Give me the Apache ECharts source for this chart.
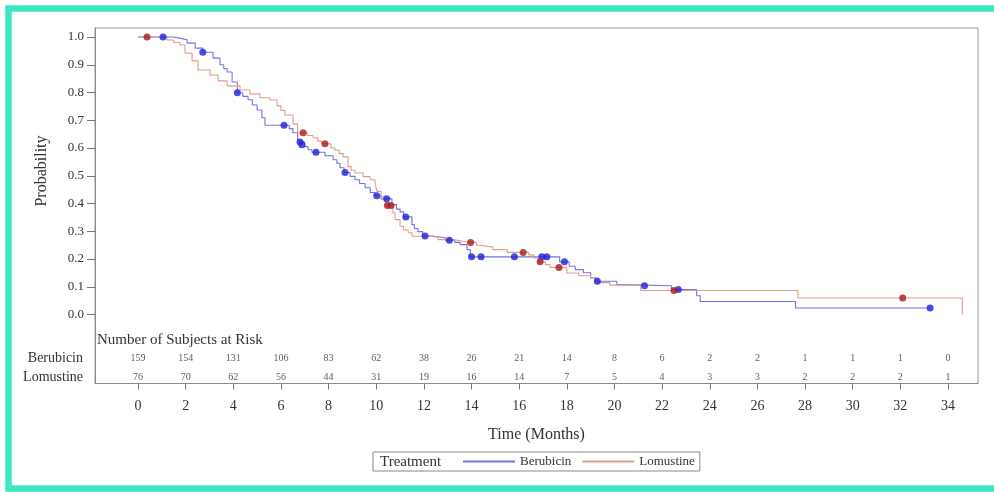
<!DOCTYPE html>
<html lang="en">
  <head>
    <meta charset="UTF-8" />
    <title>Kaplan-Meier</title>
    <script src="https://cdn.jsdelivr.net/npm/echarts/dist/echarts.min.js"></script>
    <style>
      body {
        margin: 0;
        background: #fff;
      }
      #chart {
        width: 994px;
        height: 492px;
      }
    </style>
  </head>
  <body>
    <div id="chart"></div>

    <script>
      // survival curves, [time, probability] after each drop
      var berubicinCurve = [
        [0, 1.0], [1.47, 0.996], [1.75, 0.99], [2.06, 0.978], [2.4, 0.96],
        [2.72, 0.945], [3.15, 0.924], [3.44, 0.9], [3.6, 0.886], [3.74, 0.874],
        [3.95, 0.838], [4.17, 0.799], [4.4, 0.786], [4.62, 0.774], [4.8, 0.755],
        [5.0, 0.737], [5.2, 0.709], [5.33, 0.682], [6.35, 0.67], [6.5, 0.655],
        [6.7, 0.63], [6.8, 0.622], [7.0, 0.605], [7.14, 0.594], [7.3, 0.585],
        [7.85, 0.572], [8.19, 0.558], [8.35, 0.545], [8.48, 0.529], [8.65, 0.512],
        [8.9, 0.498], [9.11, 0.486], [9.3, 0.472], [9.53, 0.457], [9.75, 0.44],
        [9.95, 0.428], [10.2, 0.417], [10.66, 0.396], [10.85, 0.38], [11.0, 0.37],
        [11.15, 0.352], [11.5, 0.324], [11.6, 0.31], [11.75, 0.299], [11.95, 0.283],
        [12.38, 0.277], [12.9, 0.268], [13.3, 0.26], [13.52, 0.252], [13.81, 0.234],
        [13.95, 0.208], [17.7, 0.19], [18.1, 0.174], [18.35, 0.162], [18.7, 0.151],
        [19.0, 0.133], [19.2, 0.12], [20.1, 0.108], [20.3, 0.104], [22.4, 0.09],
        [23.45, 0.068], [23.6, 0.047], [27.6, 0.024], [33.25, 0.024]
      ];
      var lomustineCurve = [
        [0, 1.0], [1.22, 0.989], [1.5, 0.98], [1.76, 0.971], [1.97, 0.942],
        [2.27, 0.914], [2.52, 0.881], [3.02, 0.863], [3.36, 0.842], [3.74, 0.824],
        [4.28, 0.809], [4.7, 0.795], [5.12, 0.781], [5.54, 0.773], [5.84, 0.752],
        [6.0, 0.735], [6.17, 0.719], [6.51, 0.687], [6.7, 0.655], [7.1, 0.645],
        [7.35, 0.637], [7.55, 0.625], [7.7, 0.615], [8.1, 0.6], [8.27, 0.592],
        [8.45, 0.58], [8.61, 0.568], [8.82, 0.533], [8.95, 0.52], [9.11, 0.51],
        [9.45, 0.497], [9.74, 0.486], [9.95, 0.474], [10.03, 0.444], [10.2, 0.425],
        [10.37, 0.408], [10.42, 0.393], [10.7, 0.367], [10.79, 0.342], [11.0, 0.318],
        [11.15, 0.305], [11.34, 0.295], [11.5, 0.282], [12.26, 0.279], [12.6, 0.27],
        [13.22, 0.264], [13.64, 0.26], [14.2, 0.25], [14.36, 0.243], [14.9, 0.234],
        [15.5, 0.224], [16.4, 0.215], [16.6, 0.204], [16.8, 0.19], [17.1, 0.18],
        [17.3, 0.17], [18.0, 0.15], [18.5, 0.14], [19.0, 0.132], [19.3, 0.115],
        [19.8, 0.106], [21.1, 0.087], [27.7, 0.06], [34.6, 0.0]
      ];

      // censored subjects
      var berubicinCensor = [
        [1.05, 1.0], [2.72, 0.945], [4.17, 0.799], [6.13, 0.682], [6.8, 0.622],
        [6.88, 0.612], [7.47, 0.585], [8.69, 0.512], [10.02, 0.428], [10.44, 0.417],
        [11.24, 0.352], [12.05, 0.283], [13.07, 0.268], [14.0, 0.208], [14.4, 0.208],
        [15.8, 0.208], [16.95, 0.208], [17.16, 0.208], [17.9, 0.19], [19.28, 0.12],
        [21.26, 0.104], [22.68, 0.09], [33.25, 0.024]
      ];
      var lomustineCensor = [
        [0.38, 1.0], [6.93, 0.655], [7.85, 0.615], [10.47, 0.393], [10.62, 0.393],
        [13.96, 0.26], [16.17, 0.224], [16.88, 0.19], [17.67, 0.17], [22.5, 0.087],
        [32.1, 0.06]
      ];

      // number at risk table
      var riskTimes = [0, 2, 4, 6, 8, 10, 12, 14, 16, 18, 20, 22, 24, 26, 28, 30, 32, 34];
      var berubicinRisk = [159, 154, 131, 106, 83, 62, 38, 26, 21, 14, 8, 6, 2, 2, 1, 1, 1, 0];
      var lomustineRisk = [76, 70, 62, 56, 44, 31, 19, 16, 14, 7, 5, 4, 3, 3, 2, 2, 2, 1];
      var riskRows = ["Berubicin", "Lomustine"];

      var yTicks = [0, 0.1, 0.2, 0.3, 0.4, 0.5, 0.6, 0.7, 0.8, 0.9, 1.0];

      var blueLine = "#7373e6";
      var redLine = "#df9c8c";
      var serif = '"Liberation Serif", "Times New Roman", serif';
      var chart = echarts.init(document.getElementById("chart"));

      var riskData = [];
      riskTimes.forEach(function (t, i) {
        riskData.push([t, 0, berubicinRisk[i]]);
        riskData.push([t, 1, lomustineRisk[i]]);
      });

      var option = {
        animation: false,
        backgroundColor: "#fff",
        grid: [
          {
            left: 95,
            top: 28,
            width: 883,
            height: 355.5,
            show: true,
            borderColor: "#9a9a9a",
            borderWidth: 1,
          },
          { left: 95, top: 348.5, width: 883, height: 38 },
        ],
        xAxis: [
          {
            gridIndex: 0,
            type: "value",
            min: -1.805,
            max: 35.26,
            axisLine: { show: true, onZero: false, lineStyle: { color: "#8a8a8a" } },
            axisTick: {
              show: true,
              customValues: riskTimes,
              length: 6,
              lineStyle: { color: "#777" },
            },
            axisLabel: {
              customValues: riskTimes,
              margin: 16,
              fontSize: 14,
              color: "#333",
              fontFamily: serif,
            },
            splitLine: { show: false },
            name: "Time (Months)",
            nameLocation: "middle",
            nameGap: 43,
            nameTextStyle: { fontSize: 16, color: "#333", fontFamily: serif },
          },
          { gridIndex: 1, type: "value", min: -1.805, max: 35.26, show: false },
        ],
        yAxis: [
          {
            gridIndex: 0,
            type: "value",
            min: -0.2482,
            max: 1.0324,
            axisLine: { show: true, onZero: false, lineStyle: { color: "#8a8a8a" } },
            axisTick: {
              show: true,
              customValues: yTicks,
              length: 8,
              lineStyle: { color: "#777" },
            },
            axisLabel: {
              customValues: yTicks,
              formatter: function (v) {
                return v.toFixed(1);
              },
              margin: 11,
              fontSize: 13,
              color: "#333",
              fontFamily: serif,
            },
            splitLine: { show: false },
          },
          {
            gridIndex: 1,
            type: "category",
            data: riskRows,
            inverse: true,
            axisLine: { show: false },
            axisTick: { show: false },
            axisLabel: {
              margin: 12,
              fontSize: 14,
              color: "#333",
              fontFamily: serif,
            },
          },
        ],
        legend: {
          data: ["Berubicin", "Lomustine"],
          left: 373,
          top: 452,
          padding: [3, 5, 3, 89],
          itemWidth: 52,
          itemHeight: 14,
          itemGap: 10,
          itemStyle: { opacity: 0 },
          borderColor: "#8a8a8a",
          borderWidth: 1,
          textStyle: { fontSize: 13, color: "#333", fontFamily: serif },
        },
        graphic: [
          {
            type: "rect",
            shape: { x: 8.5, y: 8.5, width: 1000, height: 480 },
            style: { fill: "none", stroke: "#3fe6c2", lineWidth: 6.5 },
            z: 100,
          },
          {
            type: "text",
            x: 42,
            y: 171,
            rotation: Math.PI / 2,
            style: {
              text: "Probability",
              font: "16px " + serif,
              fill: "#333",
              textAlign: "center",
              textVerticalAlign: "middle",
            },
          },
          {
            type: "text",
            x: 97,
            y: 340,
            style: {
              text: "Number of Subjects at Risk",
              font: "15px " + serif,
              fill: "#333",
              textAlign: "left",
              textVerticalAlign: "middle",
            },
          },
          {
            type: "text",
            x: 380,
            y: 462,
            style: {
              text: "Treatment",
              font: "15px " + serif,
              fill: "#333",
              textAlign: "left",
              textVerticalAlign: "middle",
            },
          },
        ],
        series: [
          {
            name: "Berubicin",
            type: "line",
            step: "end",
            symbol: "none",
            data: berubicinCurve,
            lineStyle: { color: blueLine, width: 1.1 },
            itemStyle: { color: blueLine },
            z: 3,
          },
          {
            name: "Lomustine",
            type: "line",
            step: "end",
            symbol: "none",
            data: lomustineCurve,
            lineStyle: { color: redLine, width: 1.1 },
            itemStyle: { color: redLine },
            z: 3,
          },
          {
            name: "Berubicin censored",
            type: "scatter",
            data: berubicinCensor,
            symbolSize: 7,
            itemStyle: { color: "#1f1fd6" },
            z: 5,
          },
          {
            name: "Lomustine censored",
            type: "scatter",
            data: lomustineCensor,
            symbolSize: 7,
            itemStyle: { color: "#a81c1c" },
            z: 5,
          },
          {
            name: "At risk",
            type: "scatter",
            xAxisIndex: 1,
            yAxisIndex: 1,
            data: riskData,
            symbolSize: 1,
            itemStyle: { color: "rgba(0,0,0,0)" },
            label: {
              show: true,
              position: "inside",
              formatter: function (p) {
                return p.value[2];
              },
              fontSize: 10,
              color: "#333",
              fontFamily: serif,
            },
          },
        ],
      };

      chart.setOption(option);
    </script>
  </body>
</html>
